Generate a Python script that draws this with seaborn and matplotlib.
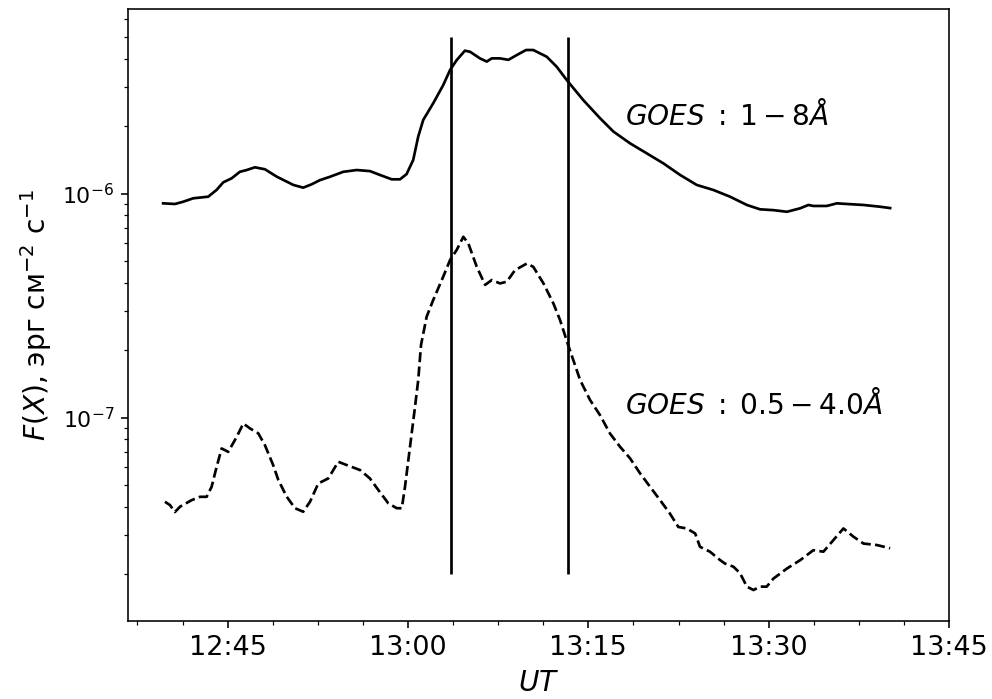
import numpy as np
import pandas as pd
import matplotlib
matplotlib.use("Agg")
import matplotlib.pyplot as plt
import matplotlib.dates as mdates
from matplotlib.ticker import AutoMinorLocator
import seaborn as sns

# GOES 1-8 A channel (solid)
t_long = ["12:39:38", "12:40:37", "12:41:18", "12:42:08", "12:43:23", "12:44:05", "12:44:38",
          "12:45:20", "12:46:01", "12:46:35", "12:47:16", "12:48:06", "12:49:05", "12:50:28",
          "12:51:17", "12:51:59", "12:52:41", "12:53:31", "12:54:37", "12:55:44", "12:56:50",
          "12:57:40", "12:58:39", "12:59:20", "12:59:53", "13:00:26", "13:00:51", "13:01:16",
          "13:02:06", "13:02:56", "13:03:30", "13:04:03", "13:04:44", "13:05:10", "13:05:59",
          "13:06:33", "13:06:58", "13:07:39", "13:08:21", "13:09:03", "13:09:49", "13:10:25",
          "13:11:32", "13:12:22", "13:13:12", "13:14:35", "13:15:58", "13:17:05", "13:18:28",
          "13:19:52", "13:21:14", "13:22:38", "13:24:01", "13:25:24", "13:26:47", "13:28:11",
          "13:29:17", "13:30:23", "13:31:31", "13:32:37", "13:33:18", "13:33:43", "13:34:50",
          "13:35:40", "13:36:30", "13:37:53", "13:39:16", "13:40:06"]
f_long = [9.04e-7, 8.98e-7, 9.19e-7, 9.52e-7, 9.68e-7, 1.038e-6, 1.122e-6,
          1.169e-6, 1.25e-6, 1.273e-6, 1.309e-6, 1.283e-6, 1.189e-6, 1.092e-6,
          1.062e-6, 1.099e-6, 1.148e-6, 1.188e-6, 1.25e-6, 1.273e-6, 1.259e-6,
          1.21e-6, 1.157e-6, 1.157e-6, 1.221e-6, 1.412e-6, 1.795e-6, 2.13e-6,
          2.53e-6, 3.05e-6, 3.56e-6, 3.94e-6, 4.34e-6, 4.29e-6, 4.01e-6,
          3.88e-6, 4.01e-6, 4.01e-6, 3.95e-6, 4.15e-6, 4.37e-6, 4.37e-6,
          4.08e-6, 3.68e-6, 3.21e-6, 2.61e-6, 2.17e-6, 1.89e-6, 1.675e-6,
          1.51e-6, 1.364e-6, 1.21e-6, 1.092e-6, 1.037e-6, 9.68e-7, 8.89e-7,
          8.50e-7, 8.43e-7, 8.29e-7, 8.59e-7, 8.89e-7, 8.80e-7, 8.80e-7,
          9.04e-7, 8.98e-7, 8.89e-7, 8.73e-7, 8.61e-7]

# GOES 0.5-4.0 A channel (dashed)
t_short = ["12:39:47", "12:40:12", "12:40:37", "12:41:02", "12:42:00", "12:42:42", "12:43:15",
           "12:43:40", "12:44:05", "12:44:30", "12:45:03", "12:45:45", "12:46:18", "12:46:51",
           "12:47:33", "12:48:06", "12:48:47", "12:49:13", "12:49:55", "12:50:36", "12:51:17",
           "12:51:51", "12:52:32", "12:53:22", "12:54:12", "12:54:54", "12:56:01", "12:56:50",
           "12:57:32", "12:58:22", "12:59:04", "12:59:29", "12:59:45", "13:00:10", "13:00:35",
           "13:00:51", "13:01:05", "13:01:33", "13:02:06", "13:02:56", "13:03:30", "13:04:03",
           "13:04:36", "13:05:01", "13:05:43", "13:06:25", "13:06:58", "13:07:39", "13:08:13",
           "13:08:54", "13:09:53", "13:10:25", "13:11:16", "13:12:05", "13:12:39", "13:13:19",
           "13:14:19", "13:15:08", "13:15:58", "13:16:48", "13:17:38", "13:18:28", "13:19:18",
           "13:20:08", "13:20:58", "13:21:47", "13:22:29", "13:23:11", "13:23:53", "13:24:17",
           "13:25:07", "13:25:58", "13:26:22", "13:27:04", "13:27:37", "13:28:11", "13:28:44",
           "13:29:17", "13:29:50", "13:30:23", "13:31:31", "13:32:37", "13:33:43", "13:34:33",
           "13:35:23", "13:36:13", "13:37:03", "13:37:53", "13:38:59", "13:40:06"]
f_short = [4.21e-8, 4.07e-8, 3.79e-8, 4.0e-8, 4.28e-8, 4.43e-8, 4.43e-8,
           4.91e-8, 6.03e-8, 7.28e-8, 7.03e-8, 8.20e-8, 9.41e-8, 8.95e-8,
           8.50e-8, 7.53e-8, 6.14e-8, 5.26e-8, 4.43e-8, 3.94e-8, 3.80e-8,
           4.21e-8, 5.08e-8, 5.35e-8, 6.35e-8, 6.14e-8, 5.83e-8, 5.35e-8,
           4.75e-8, 4.14e-8, 3.94e-8, 3.94e-8, 4.91e-8, 7.41e-8, 1.117e-7,
           1.47e-7, 2.11e-7, 2.82e-7, 3.35e-7, 4.26e-7, 5.05e-7, 5.60e-7,
           6.41e-7, 5.99e-7, 4.71e-7, 3.91e-7, 4.11e-7, 3.97e-7, 4.04e-7,
           4.55e-7, 4.87e-7, 4.71e-7, 3.97e-7, 3.24e-7, 2.72e-7, 2.11e-7,
           1.47e-7, 1.20e-7, 1.026e-7, 8.49e-8, 7.41e-8, 6.58e-8, 5.64e-8,
           4.91e-8, 4.28e-8, 3.73e-8, 3.25e-8, 3.20e-8, 3.04e-8, 2.65e-8,
           2.52e-8, 2.31e-8, 2.23e-8, 2.16e-8, 2.02e-8, 1.76e-8, 1.70e-8,
           1.76e-8, 1.76e-8, 1.91e-8, 2.12e-8, 2.31e-8, 2.56e-8, 2.52e-8,
           2.84e-8, 3.20e-8, 2.94e-8, 2.74e-8, 2.70e-8, 2.61e-8]

# Interval markers
t_marks = ["13:03:33", "13:13:17"]
mark_low, mark_high = 2.0e-8, 5.0e-6

labels = [r"$GOES\;:\;1-8\AA$", r"$GOES\;:\;0.5-4.0\AA$"]
label_t = "13:18:03"
label_f = [2.24e-6, 1.14e-7]

day = "2000-01-01 "
df_long = pd.DataFrame({"t": pd.to_datetime([day + s for s in t_long]), "f": f_long})
df_short = pd.DataFrame({"t": pd.to_datetime([day + s for s in t_short]), "f": f_short})

plt.rcParams["font.family"] = ["DejaVu Sans"]
fig = plt.figure(figsize=(992 / 144, 699 / 144), dpi=144)
ax = fig.add_axes([0.1293, 0.112, 0.8274, 0.8747])
ax.set_yscale("log")

sns.lineplot(data=df_long, x="t", y="f", ax=ax, color="black", lw=1.35,
             estimator=None, sort=False)
sns.lineplot(data=df_short, x="t", y="f", ax=ax, color="black", lw=1.35,
             linestyle="--", estimator=None, sort=False)

ax.vlines(pd.to_datetime([day + s for s in t_marks]), mark_low, mark_high,
          color="black", lw=1.35)

lt = pd.Timestamp(day + label_t)
for txt, fv in zip(labels, label_f):
    ax.text(lt, fv, txt, fontsize=14, ha="left", va="center")

ax.set_xlim(pd.Timestamp(day + "12:36:44"), pd.Timestamp(day + "13:45:00"))
ax.set_ylim(1.24e-8, 6.64e-6)

ax.xaxis.set_major_locator(mdates.MinuteLocator(byminute=[0, 15, 30, 45]))
ax.xaxis.set_major_formatter(mdates.DateFormatter("%H:%M"))
ax.xaxis.set_minor_locator(AutoMinorLocator(4))
ax.tick_params(axis="x", labelsize=13.5)
ax.tick_params(axis="y", labelsize=11)

ax.set_xlabel(r"$UT$", fontsize=14, labelpad=4)
ax.set_ylabel(r"$F(X)$, эрг см$^{-2}$ с$^{-1}$", fontsize=14)

fig.savefig("out.png", dpi=144)
